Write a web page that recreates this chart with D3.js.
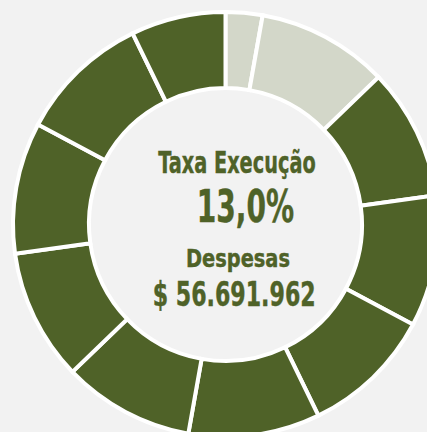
<!DOCTYPE html>
<html>
<head>
<meta charset="utf-8">
<script src="https://cdn.jsdelivr.net/npm/d3@7"></script>
<style>
    html, body { margin: 0; padding: 0; background: #f2f2f2; overflow: hidden; }
</style>
</head>
<body>
<div class="chart-container"></div>
<script>
// data
const segValues = [2.8, 10, 10, 10, 10, 10, 10, 10, 10, 10, 7.2];
const segStatus = ['exec', 'exec', 'rest', 'rest', 'rest', 'rest', 'rest', 'rest', 'rest', 'rest', 'rest'];
const titleLabel = 'Taxa Execução';
const rateLabel = '13,0%';
const spendTitle = 'Despesas';
const spendLabel = '$ 56.691.962';

const colors = { exec: '#d3d7c9', rest: '#4f6228' };
const textColor = '#4f6228';

const width = 427;
const height = 432;
const cx = 225.5;
const cy = 224.5;

const svg = d3.select('.chart-container')
    .append('svg')
    .attr('width', width)
    .attr('height', height);

svg.append('rect')
    .attr('width', width)
    .attr('height', height)
    .attr('fill', '#f2f2f2');

const segments = segValues.map((v, i) => ({ value: v, status: segStatus[i] }));

const pie = d3.pie()
    .sort(null)
    .value(d => d.value);

const arcGen = d3.arc()
    .innerRadius(136.5)
    .outerRadius(212.5);

const ring = svg.append('g')
    .attr('transform', `translate(${cx}, ${cy})`);

ring.selectAll('.seg')
    .data(pie(segments))
    .enter()
        .append('path')
        .attr('class', 'seg')
        .attr('d', arcGen)
        .attr('fill', d => colors[d.data.status])
        .attr('stroke', '#fff')
        .attr('stroke-width', 4)
        .attr('stroke-linejoin', 'miter');

// center labels (condensed heavy font, stretched to fit)
const labels = [
    { text: titleLabel, x: 158.3, y: 173.3, size: 31, len: 157.4 },
    { text: rateLabel, x: 196.7, y: 221.7, size: 44, len: 97.3 },
    { text: spendTitle, x: 186, y: 267.3, size: 24, len: 104 },
    { text: spendLabel, x: 152.7, y: 305.7, size: 33.5, len: 163 }
];

svg.append('g')
    .attr('class', 'center-labels')
    .selectAll('text')
    .data(labels)
    .enter()
        .append('text')
        .attr('x', d => d.x)
        .attr('y', d => d.y)
        .attr('textLength', d => d.len)
        .attr('lengthAdjust', 'spacingAndGlyphs')
        .text(d => d.text)
        .style('font-family', '"Liberation Sans Narrow", "DejaVu Sans Condensed", sans-serif')
        .style('font-weight', 'bold')
        .style('font-size', d => `${d.size}px`)
        .style('fill', textColor)
        .style('stroke', textColor)
        .style('stroke-width', 0.4);
</script>
</body>
</html>
